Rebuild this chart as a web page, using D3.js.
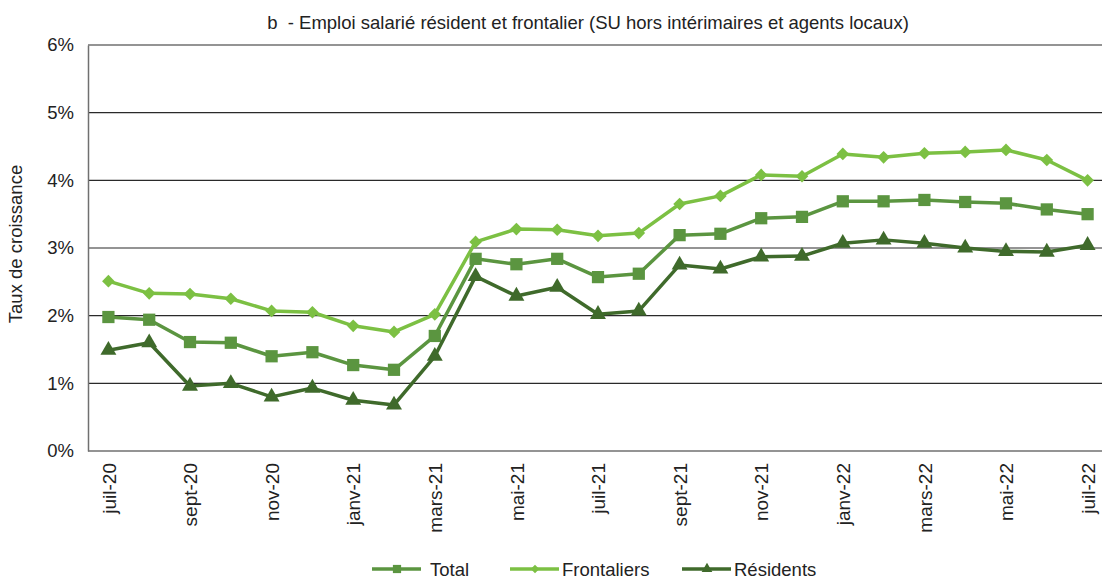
<!DOCTYPE html>
<html>
<head>
<meta charset="utf-8">
<script src="https://cdn.jsdelivr.net/npm/d3@7"></script>
<style>
  body { margin: 0; background: #fff; }
  svg { font-family: "Liberation Sans", Arial, sans-serif; }
</style>
</head>
<body>
<svg id="chart" width="1102" height="579"></svg>
<script>
// months, juil-20 .. juil-22
var months = ["juil-20","août-20","sept-20","oct-20","nov-20","déc-20",
  "janv-21","févr-21","mars-21","avr-21","mai-21","juin-21",
  "juil-21","août-21","sept-21","oct-21","nov-21","déc-21",
  "janv-22","févr-22","mars-22","avr-22","mai-22","juin-22","juil-22"];

var total = [1.98,1.94,1.61,1.60,1.40,1.46,1.27,1.20,1.70,2.84,2.76,2.84,
  2.57,2.62,3.19,3.21,3.44,3.46,3.69,3.69,3.71,3.68,3.66,3.57,3.50];

var frontaliers = [2.51,2.33,2.32,2.25,2.07,2.05,1.85,1.76,2.02,3.09,3.28,3.27,
  3.18,3.22,3.65,3.77,4.08,4.06,4.39,4.34,4.40,4.42,4.45,4.30,4.00];

var residents = [1.49,1.60,0.96,1.00,0.80,0.93,0.75,0.68,1.40,2.58,2.29,2.42,
  2.02,2.07,2.75,2.69,2.87,2.88,3.07,3.12,3.07,3.00,2.95,2.94,3.04];

var yTicks = [0,1,2,3,4,5,6];

// rot: extra rotation of the marker (square turned 45deg = diamond)
var series = [
  {name: "Total", values: total, color: "#5b9540", symbol: d3.symbolSquare, size: 150, rot: 0},
  {name: "Frontaliers", values: frontaliers, color: "#7cc043", symbol: d3.symbolSquare, size: 80, rot: 45},
  {name: "Résidents", values: residents, color: "#3f6a2b", symbol: d3.symbolTriangle, size: 110, rot: 0}
];

var svg = d3.select("#chart");
var plotLeft = 88, plotRight = 1108, plotTop = 45, plotBottom = 451;

var x = d3.scalePoint().domain(months).range([plotLeft, plotRight]).padding(0.5);
var y = d3.scaleLinear().domain([0, 6]).range([plotBottom, plotTop]);

// title
svg.append("text")
  .attr("x", 588).attr("y", 29)
  .attr("text-anchor", "middle")
  .attr("font-size", 18.5).attr("fill", "#222")
  .attr("xml:space", "preserve")
  .text("b  - Emploi salarié résident et frontalier (SU hors intérimaires et agents locaux)");

// gridlines
svg.append("g").selectAll("line")
  .data(yTicks.filter(function(d){ return d > 0; }))
  .join("line")
  .attr("x1", plotLeft).attr("x2", 1102)
  .attr("y1", function(d){ return y(d); })
  .attr("y2", function(d){ return y(d); })
  .attr("stroke", "#2a2a2a").attr("stroke-width", 1.2);

// y axis
var yAxis = d3.axisLeft(y).tickValues(yTicks)
  .tickFormat(function(d){ return d + "%"; })
  .tickSize(0).tickPadding(14);
var gy = svg.append("g").attr("transform", "translate(" + plotLeft + ",0)").call(yAxis);
gy.select(".domain").attr("stroke", "#707070").attr("stroke-width", 1.5);
gy.selectAll("text").attr("font-size", 18.5).attr("fill", "#222")
  .attr("font-family", "Liberation Sans, Arial, sans-serif");

// x axis
var xAxis = d3.axisBottom(x)
  .tickValues(months.filter(function(d, i){ return i % 2 == 0; }))
  .tickSize(0).tickPadding(0);
var gx = svg.append("g").attr("transform", "translate(0," + plotBottom + ")").call(xAxis);
gx.select(".domain").attr("d", "M" + plotLeft + ",0H1102")
  .attr("stroke", "#707070").attr("stroke-width", 1.5);
gx.selectAll("text")
  .attr("font-size", 19).attr("fill", "#222")
  .attr("font-family", "Liberation Sans, Arial, sans-serif")
  .attr("text-anchor", "end")
  .attr("dy", "0.35em")
  .attr("transform", "translate(0,12) rotate(-90)")
  .attr("x", 0).attr("y", 0);

// y title
svg.append("text")
  .attr("transform", "translate(22,244) rotate(-90)")
  .attr("text-anchor", "middle")
  .attr("font-size", 18.5).attr("fill", "#222")
  .text("Taux de croissance");

// lines + markers
var line = d3.line()
  .x(function(d, i){ return x(months[i]); })
  .y(function(d){ return y(d); });

series.forEach(function(s){
  var g = svg.append("g");
  g.append("path")
    .attr("d", line(s.values))
    .attr("fill", "none")
    .attr("stroke", s.color)
    .attr("stroke-width", 3.5)
    .attr("stroke-linejoin", "round");
  g.selectAll("path.pt")
    .data(s.values)
    .join("path")
    .attr("class", "pt")
    .attr("d", d3.symbol().type(s.symbol).size(s.size))
    .attr("transform", function(d, i){
      return "translate(" + x(months[i]) + "," + y(d) + ") rotate(" + s.rot + ")";
    })
    .attr("fill", s.color);
});

// legend
var legendX = [372, 510, 682];
series.forEach(function(s, i){
  var lg = svg.append("g").attr("transform", "translate(" + legendX[i] + ",569)");
  lg.append("line").attr("x1", 0).attr("x2", 49)
    .attr("stroke", s.color).attr("stroke-width", 3.5);
  lg.append("path")
    .attr("d", d3.symbol().type(s.symbol).size(s.size * 0.45))
    .attr("transform", "translate(25,0) rotate(" + s.rot + ")")
    .attr("fill", s.color);
  lg.append("text")
    .attr("x", i == 0 ? 58 : 52).attr("y", 7)
    .attr("font-size", 18.5).attr("fill", "#222")
    .text(s.name);
});
</script>
</body>
</html>
